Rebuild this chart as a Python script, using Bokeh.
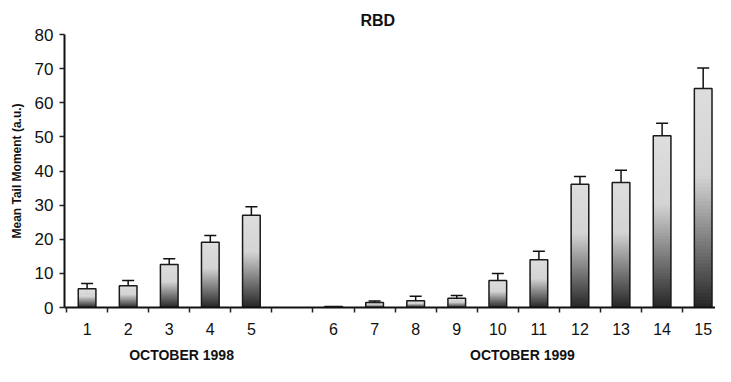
from bokeh.plotting import figure
from bokeh.models import (ColumnDataSource, Range1d, FixedTicker, LinearAxis,
                          Whisker, TeeHead)
from bokeh.embed import file_html
from bokeh.resources import INLINE

# ---- data ----
labels = ["1", "2", "3", "4", "5", "6", "7", "8", "9", "10", "11", "12", "13", "14", "15"]
positions = [1, 2, 3, 4, 5, 7, 8, 9, 10, 11, 12, 13, 14, 15, 16]   # slot 6 is an empty gap
values = [5.5, 6.4, 12.6, 19.1, 27.0, 0.3, 1.5, 2.0, 2.7, 7.9, 14.0, 36.1, 36.6, 50.3, 64.2]
errors = [1.5, 1.5, 1.7, 2.0, 2.5, 0.0, 0.4, 1.3, 0.8, 2.1, 2.5, 2.3, 3.6, 3.7, 6.0]
group_labels = ["OCTOBER 1998", "OCTOBER 1999"]
group_centers = [3.3, 11.6]
title_text = "RBD"
y_title = "Mean Tail Moment (a.u.)"

FONT = "Liberation Sans"
BAR_W = 0.43
NSLICE = 60

p = figure(width=715, height=366, output_backend="svg", toolbar_location=None,
           x_range=Range1d(0.45, 16.3), y_range=Range1d(0, 80),
           min_border_left=64, min_border_right=0, min_border_top=34,
           min_border_bottom=59, title=title_text)
p.outline_line_color = None
p.grid.visible = False
p.background_fill_color = "white"
p.border_fill_color = "white"

p.title.align = "left"
p.title.offset = 296
p.title.standoff = 12
p.title.text_font = FONT
p.title.text_font_size = "16px"
p.title.text_font_style = "bold"
p.title.text_color = "#111111"

# ---- gradient bars (light top, dark bottom) ----
def shade(t):
    if t < 0.6:
        g = 38 + (212 - 38) * (t / 0.6)
    else:
        g = 212 + (222 - 212) * ((t - 0.6) / 0.4)
    g = int(g)
    return "#%02x%02x%02x" % (g, g, g)

lefts, rights, bots, tops, cols = [], [], [], [], []
for x, v in zip(positions, values):
    for k in range(NSLICE):
        b = v * k / NSLICE
        t = min(v, v * (k + 2.5) / NSLICE)
        lefts.append(x - BAR_W / 2)
        rights.append(x + BAR_W / 2)
        bots.append(b)
        tops.append(t)
        cols.append(shade((k + 0.5) / NSLICE))
p.quad(left=lefts, right=rights, bottom=bots, top=tops, fill_color=cols,
       line_color=None)

outline = ColumnDataSource(dict(x=positions, top=values))
p.vbar(x="x", top="top", bottom=0, width=BAR_W, source=outline,
       fill_color=None, line_color="#1a1a1a", line_width=1.5)

# ---- error bars ----
ex = [x for x, e in zip(positions, errors) if e > 0]
eu = [v + e for v, e in zip(values, errors) if e > 0]
el = [v - e for v, e in zip(values, errors) if e > 0]
esrc = ColumnDataSource(dict(x=ex, upper=eu, lower=el))
w = Whisker(base="x", upper="upper", lower="lower", source=esrc,
            line_color="#111111", line_width=1.5,
            upper_head=TeeHead(size=12, line_width=1.5, line_color="#111111"),
            lower_head=TeeHead(size=12, line_width=1.5, line_color="#111111"))
p.add_layout(w)

# ---- x axis ----
xa = p.xaxis[0]
xa.ticker = FixedTicker(ticks=positions, minor_ticks=[i + 0.5 for i in range(0, 17)])
xa.major_label_overrides = {x: l for x, l in zip(positions, labels)}
xa.major_tick_out = 0
xa.major_tick_in = 0
xa.minor_tick_out = 5
xa.minor_tick_in = 0
xa.minor_tick_line_color = "#222222"
xa.minor_tick_line_width = 1.5
xa.axis_line_color = "#111111"
xa.axis_line_width = 2
xa.major_label_text_font = FONT
xa.major_label_text_font_size = "16px"
xa.major_label_text_color = "#111111"
xa.major_label_standoff = 10

ga = LinearAxis(ticker=FixedTicker(ticks=group_centers),
                major_label_overrides={c: l for c, l in zip(group_centers, group_labels)})
ga.axis_line_color = None
ga.major_tick_line_color = None
ga.minor_tick_line_color = None
ga.major_label_text_font = FONT
ga.major_label_text_font_size = "14px"
ga.major_label_text_font_style = "bold"
ga.major_label_text_color = "#111111"
ga.major_label_standoff = 3
p.add_layout(ga, "below")

# ---- y axis ----
ya = p.yaxis[0]
ya.ticker = FixedTicker(ticks=[0, 10, 20, 30, 40, 50, 60, 70, 80])
ya.minor_tick_line_color = None
ya.major_tick_out = 5
ya.major_tick_in = 0
ya.major_tick_line_width = 1.5
ya.major_tick_line_color = "#222222"
ya.axis_line_color = "#111111"
ya.axis_line_width = 2
ya.major_label_text_font = FONT
ya.major_label_text_font_size = "17px"
ya.major_label_text_color = "#111111"
ya.major_label_standoff = 6
ya.axis_label = y_title
ya.axis_label_text_font = FONT
ya.axis_label_text_font_size = "12px"
ya.axis_label_text_font_style = "bold"
ya.axis_label_text_color = "#111111"
ya.axis_label_standoff = 8

open("out.html", "w").write(file_html(p, INLINE))
